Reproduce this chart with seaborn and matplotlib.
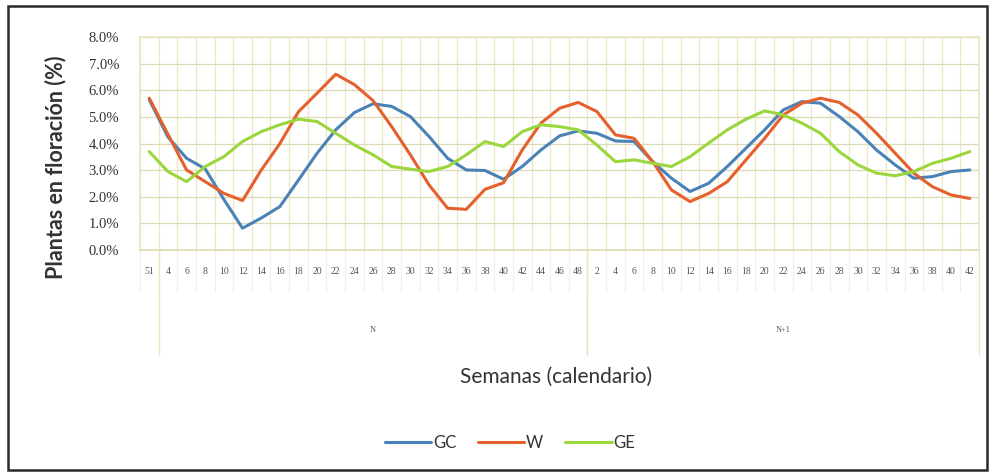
import numpy as np
import pandas as pd
import matplotlib
matplotlib.use("Agg")
import matplotlib.pyplot as plt
import seaborn as sns
from matplotlib import transforms
from matplotlib.lines import Line2D
from matplotlib.patches import Rectangle

# Semanas del calendario (dos campañas: N y N+1)
weeks = ["51", "4", "6", "8", "10", "12", "14", "16", "18", "20", "22", "24",
         "26", "28", "30", "32", "34", "36", "38", "40", "42", "44", "46", "48",
         "2", "4", "6", "8", "10", "12", "14", "16", "18", "20", "22", "24",
         "26", "28", "30", "32", "34", "36", "38", "40", "42"]

# Plantas en floracion (%)
gc = [5.65, 4.25, 3.45, 3.05, 1.90, 0.82, 1.20, 1.63, 2.63, 3.64, 4.52, 5.17,
      5.50, 5.40, 5.02, 4.27, 3.45, 3.01, 2.99, 2.66, 3.14, 3.76, 4.29, 4.48,
      4.39, 4.10, 4.08, 3.32, 2.70, 2.20, 2.51, 3.14, 3.83, 4.52, 5.27, 5.58,
      5.52, 5.02, 4.45, 3.76, 3.20, 2.70, 2.76, 2.95, 3.01]
w = [5.71, 4.35, 3.01, 2.57, 2.13, 1.86, 3.00, 4.00, 5.20, 5.90, 6.61, 6.22,
     5.62, 4.64, 3.58, 2.45, 1.57, 1.53, 2.28, 2.53, 3.76, 4.77, 5.33, 5.55,
     5.21, 4.33, 4.20, 3.32, 2.26, 1.82, 2.13, 2.57, 3.39, 4.20, 5.08, 5.52,
     5.71, 5.55, 5.08, 4.39, 3.64, 2.89, 2.38, 2.07, 1.94]
ge = [3.70, 2.95, 2.57, 3.14, 3.51, 4.08, 4.45, 4.71, 4.92, 4.83, 4.39, 3.95,
      3.58, 3.14, 3.04, 2.95, 3.14, 3.58, 4.08, 3.89, 4.45, 4.71, 4.64, 4.52,
      3.95, 3.32, 3.39, 3.26, 3.14, 3.51, 4.02, 4.52, 4.92, 5.23, 5.08, 4.77,
      4.39, 3.70, 3.20, 2.89, 2.79, 2.95, 3.26, 3.45, 3.70]

series = ["GC", "W", "GE"]
colors = {"GC": "#4a82b8", "W": "#e4602c", "GE": "#9ad63c"}

# grupos del eje (campaña, primera y ultima posicion)
groups = [("N", 1, 23), ("N+1", 24, 44)]

grid_color = "#ebe7c2"
text_color = "#333333"

sns.set_theme(style="white")
plt.rcParams["font.family"] = ["Lato", "DejaVu Sans"]

n = len(weeks)
df = pd.DataFrame({
    "pos": list(range(n)) * 3,
    "valor": gc + w + ge,
    "serie": ["GC"] * n + ["W"] * n + ["GE"] * n,
})

fig = plt.figure(figsize=(9.94, 4.75), dpi=100)
fig.patch.set_facecolor("white")
ax = fig.add_axes([0.1408, 0.4737, 0.8442, 0.4478])

sns.lineplot(data=df, x="pos", y="valor", hue="serie", hue_order=series,
             palette=colors, linewidth=2.2, ax=ax, legend=False)

ax.set_xlim(-0.5, n - 0.5)
ax.set_ylim(0, 8)

# ticks y gridlines
ax.set_yticks(range(0, 9))
ax.set_yticklabels([f"{v:.1f}%" for v in range(0, 9)], fontsize=10.5,
                   family="Liberation Serif", color=text_color)
ax.set_xticks(range(n))
ax.set_xticklabels(weeks, fontsize=7, family="Liberation Serif", color="#555555")
ax.set_xticks(np.arange(-0.5, n, 1.0), minor=True)
ax.tick_params(axis="y", length=0, pad=15)
ax.tick_params(axis="x", which="both", length=0, pad=12)
ax.yaxis.grid(True, color="#dedab4", linewidth=0.9)
ax.xaxis.grid(True, which="minor", color=grid_color, linewidth=0.9)
ax.xaxis.grid(False, which="major")
for s in ax.spines.values():
    s.set_color(grid_color)
ax.spines["bottom"].set_color("#dedab4")
ax.set_xlabel("")
ax.set_ylabel("")

# separadores del eje de categorias y etiquetas de grupo
trans = transforms.blended_transform_factory(ax.transData, fig.transFigure)
for i in range(n + 1):
    ax.add_line(Line2D([i - 0.5, i - 0.5], [0.4737, 0.385], transform=trans,
                       color="#f3f1dc", linewidth=0.8, clip_on=False))
for name, a, b in groups:
    for xb in (a - 0.5, b + 0.5):
        ax.add_line(Line2D([xb, xb], [0.4737, 0.253], transform=trans,
                           color=grid_color, linewidth=1.0, clip_on=False))
    ax.text((a + b) / 2, 0.305, name, transform=trans, ha="center", va="center",
            fontsize=6, family="Liberation Serif", color="#555555")

fig.text(0.056, 0.648, "Plantas en floración (%)", rotation=90, ha="center",
         va="center", fontsize=15.5, fontweight="bold", color=text_color)
fig.text(0.559, 0.206, "Semanas (calendario)", ha="center", va="center",
         fontsize=15, color=text_color)

handles = [Line2D([], [], color=colors[s], linewidth=2.2) for s in series]
fig.legend(handles, series, loc="center", bbox_to_anchor=(0.513, 0.067), ncol=3,
           frameon=False, fontsize=12, handlelength=2.8, handletextpad=0.1,
           columnspacing=1.3, labelcolor=text_color)

# marco exterior
fig.patches.append(Rectangle((0.008, 0.01), 0.985, 0.978, transform=fig.transFigure,
                             fill=False, edgecolor="#2a2a2a", linewidth=1.8))

fig.savefig("out.png", dpi=100)
